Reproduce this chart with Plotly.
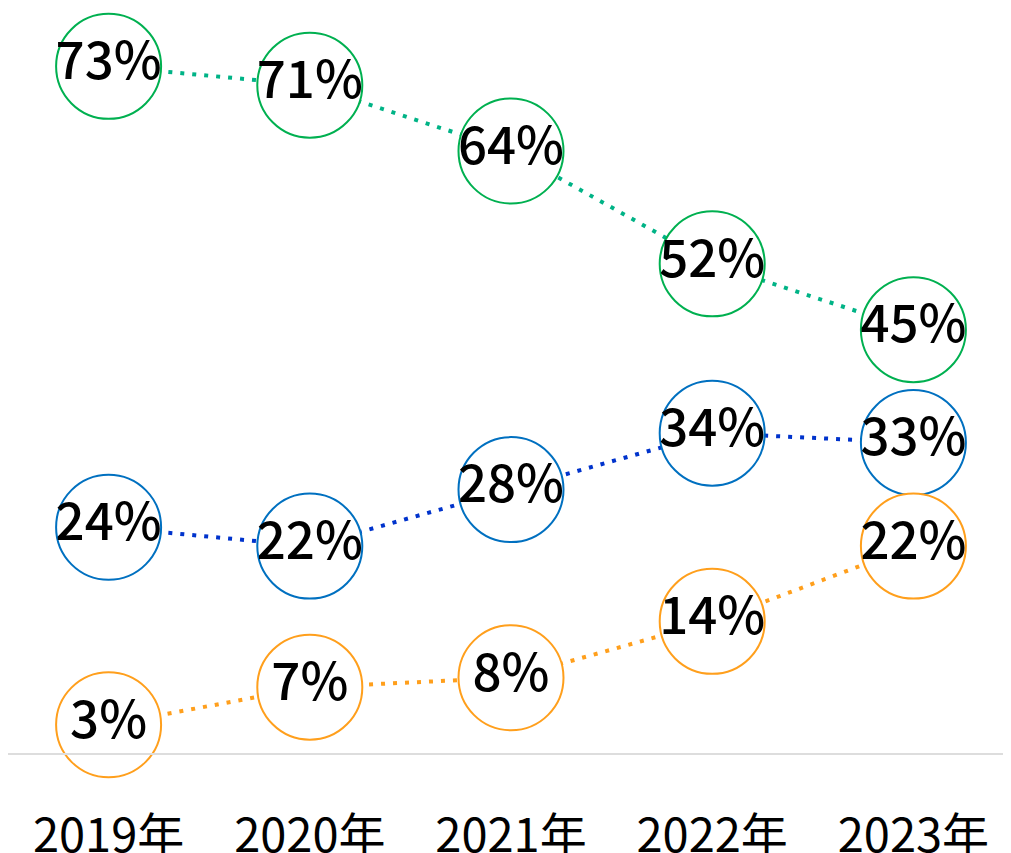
import plotly.graph_objects as go

years = ["2019年", "2020年", "2021年", "2022年", "2023年"]
green_vals = [73, 71, 64, 52, 45]
blue_vals = [24, 22, 28, 34, 33]
orange_vals = [3, 7, 8, 14, 22]

series = [
    ("green", green_vals, "#00b386", "#00b050"),
    ("blue", blue_vals, "#0033cc", "#0070c0"),
    ("orange", orange_vals, "#ff9f1c", "#ff9f1c"),
]

FONT = "Noto Sans CJK JP"
fig = go.Figure()

for name, vals, lc, mc in series:
    fig.add_trace(go.Scatter(
        x=years, y=vals, mode="lines", name=name,
        line=dict(color=lc, width=4, dash="4px,8px"),
        hoverinfo="skip", cliponaxis=False, showlegend=False,
    ))

for name, vals, lc, mc in series:
    fig.add_trace(go.Scatter(
        x=years, y=vals, mode="markers+text", name=name,
        marker=dict(size=105, color="white", line=dict(color=mc, width=2)),
        text=[f"{v}%" for v in vals], textposition="middle center",
        textfont=dict(family="Noto Sans CJK JP Medium, " + FONT, size=51, color="black"),
        cliponaxis=False, showlegend=False,
    ))

fig.update_layout(
    width=1011, height=853,
    margin=dict(l=0, r=5, t=0, b=108),
    paper_bgcolor="white", plot_bgcolor="white",
    font=dict(family=FONT),
    xaxis=dict(
        type="category", range=[-0.5, 4.5], automargin=False,
        showgrid=False, zeroline=False,
        showline=True, linecolor="#dddddd", linewidth=2,
        tickfont=dict(family=FONT, size=47, color="black"),
        ticks="", ticklabelstandoff=41,
    ),
    yaxis=dict(range=[0, 79.2], visible=False, showgrid=False, zeroline=False,
               automargin=False),
)

fig.write_html("out.html")
